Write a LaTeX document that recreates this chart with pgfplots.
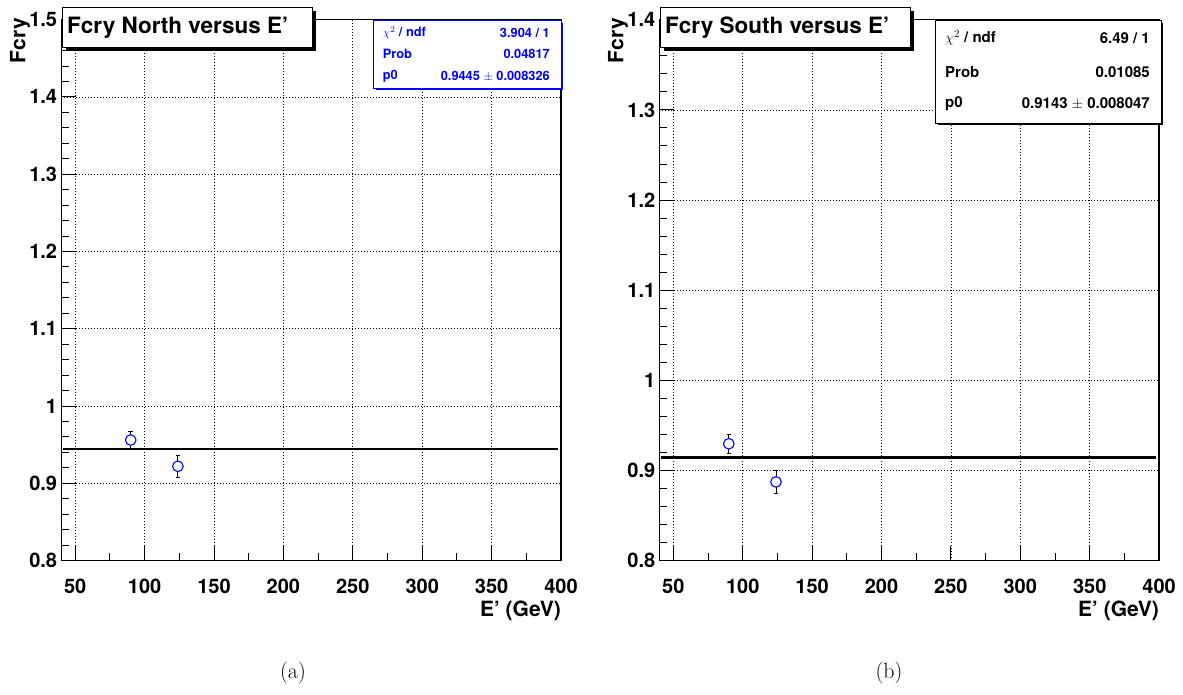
\documentclass[border=0pt]{standalone}
\usepackage{fontspec}
\usepackage{pgfplots}
\pgfplotsset{compat=1.18}
\newfontfamily\helv{TeX Gyre Heros}
\definecolor{rootblue}{RGB}{0,0,255}

\pgfplotsset{
  rootstyle/.style={
    scale only axis,
    width=499.7pt, height=541pt,
    xmin=40, xmax=400,
    xtick={50,100,150,200,250,300,350,400},
    minor x tick num=1,
    minor y tick num=4,
    tick pos=left,
    tick align=inside,
    major tick length=15pt, minor tick length=8pt,
    every tick/.style={black, line width=0.9pt},
    grid=major,
    major grid style={black, line width=0.7pt, dash pattern=on 0.8pt off 2.2pt},
    axis line style={line width=1.4pt},
    /pgf/number format/assume math mode=true,
    tick label style={font=\helv\bfseries\fontsize{20}{20}\selectfont},
    yticklabel style={anchor=east, inner sep=0pt, xshift=-4pt},
    xticklabel style={anchor=north, inner sep=0pt, yshift=-18pt},
    xlabel={E’ (GeV)},
    xlabel style={at={(rel axis cs:1,0)}, anchor=north east, inner sep=0pt, yshift=-40pt, font=\helv\bfseries\fontsize{21}{21}\selectfont},
  },
  fitline/.style={black, line width=2.6pt, forget plot},
  errs/.style={only marks, mark=none, forget plot, error bars/.cd, y dir=both, y explicit,
    error bar style={black, line width=0.9pt},
    error mark options={rotate=90, mark size=2.3pt, black, line width=0.9pt}},
  pts/.style={only marks, mark=*, mark size=5.3pt, mark options={draw=rootblue, fill=white, line width=1.1pt}},
}

\begin{document}
\begin{tikzpicture}
\useasboundingbox (0pt,0pt) rectangle (1183pt,694pt);

% ---------------- (a) North ----------------
\begin{axis}[rootstyle, at={(61.3pt,133.4pt)}, anchor=south west,
  ymin=0.8, ymax=1.5,
  ytick={0.8,0.9,1,1.1,1.2,1.3,1.4,1.5},
  yticklabels={0.8,0.9,1,1.1,1.2,1.3,1.4,1.5}]
  \addplot[fitline] coordinates {(41.4,0.9445) (397.5,0.9445)};
  \addplot[errs] coordinates {(90,0.956) +- (0,0.0105) (124,0.922) +- (0,0.0142)};
  \addplot[pts] coordinates {(90,0.956) (124,0.922)};
\end{axis}

% ---------------- (b) South ----------------
\begin{axis}[rootstyle, at={(659.4pt,133.3pt)}, anchor=south west,
  ymin=0.8, ymax=1.4,
  ytick={0.8,0.9,1,1.1,1.2,1.3,1.4},
  yticklabels={0.8,0.9,1,1.1,1.2,1.3,1.4}]
  \addplot[fitline] coordinates {(41.4,0.9143) (397.5,0.9143)};
  \addplot[errs] coordinates {(90,0.9297) +- (0,0.0103) (124,0.8874) +- (0,0.0131)};
  \addplot[pts] coordinates {(90,0.9297) (124,0.8874)};
\end{axis}

% ---- y-axis titles ----
\node[rotate=90, anchor=east, inner sep=0pt, font=\helv\bfseries\fontsize{21}{21}\selectfont] at (20pt,676pt) {Fcry};
\node[rotate=90, anchor=east, inner sep=0pt, font=\helv\bfseries\fontsize{21}{21}\selectfont] at (618pt,676pt) {Fcry};

% ---- title boxes ----
\fill[black] (65.5pt,643pt) rectangle (315.5pt,683pt);
\draw[black, line width=1pt, fill=white] (62pt,646.5pt) rectangle (312pt,686pt);
\node[anchor=west, inner sep=0pt, font=\helv\bfseries\fontsize{22.5}{22.5}\selectfont] at (67pt,666pt) {Fcry North versus E’};

\fill[black] (663.5pt,643pt) rectangle (913.5pt,683pt);
\draw[black, line width=1pt, fill=white] (660pt,646.5pt) rectangle (910pt,686pt);
\node[anchor=west, inner sep=0pt, font=\helv\bfseries\fontsize{22.5}{22.5}\selectfont] at (665pt,666pt) {Fcry South versus E’};

% ---- stats box (a) ----
\fill[rootblue] (375.5pt,603.5pt) rectangle (563.2pt,671.1pt);
\draw[rootblue, line width=1pt, fill=white] (373.3pt,605.7pt) rectangle (561pt,673.3pt);
\begin{scope}[every node/.style={inner sep=0pt, text=rootblue, font=\helv\bfseries\fontsize{12.8}{12.8}\selectfont}]
  \node[anchor=west] at (382.7pt,661.3pt) {$\chi^{2}$ / ndf};
  \node[anchor=east] at (550pt,661.3pt) {3.904 / 1};
  \node[anchor=west] at (382.7pt,639.7pt) {Prob};
  \node[anchor=east] at (550pt,639.7pt) {0.04817};
  \node[anchor=west] at (382.7pt,617.3pt) {p0};
  \node[anchor=east] at (550pt,617.3pt) {0.9445 $\pm$ 0.008326};
\end{scope}

% ---- stats box (b) ----
\fill[black] (937.5pt,568.5pt) rectangle (1163.2pt,671.1pt);
\draw[black, line width=1pt, fill=white] (935.3pt,570.7pt) rectangle (1161pt,673.3pt);
\begin{scope}[every node/.style={inner sep=0pt, text=black, font=\helv\bfseries\fontsize{15}{15}\selectfont}]
  \node[anchor=west] at (945pt,656pt) {$\chi^{2}$ / ndf};
  \node[anchor=east] at (1150pt,656pt) {6.49 / 1};
  \node[anchor=west] at (945pt,622pt) {Prob};
  \node[anchor=east] at (1150pt,622pt) {0.01085};
  \node[anchor=west] at (945pt,590pt) {p0};
  \node[anchor=east] at (1150pt,590pt) {0.9143 $\pm$ 0.008047};
\end{scope}

% ---- sub-captions ----
\node[anchor=base, inner sep=0pt, font=\rmfamily\fontsize{22}{22}\selectfont] at (293pt,16pt) {(a)};
\node[anchor=base, inner sep=0pt, font=\rmfamily\fontsize{22}{22}\selectfont] at (889pt,16pt) {(b)};
\end{tikzpicture}
\end{document}
